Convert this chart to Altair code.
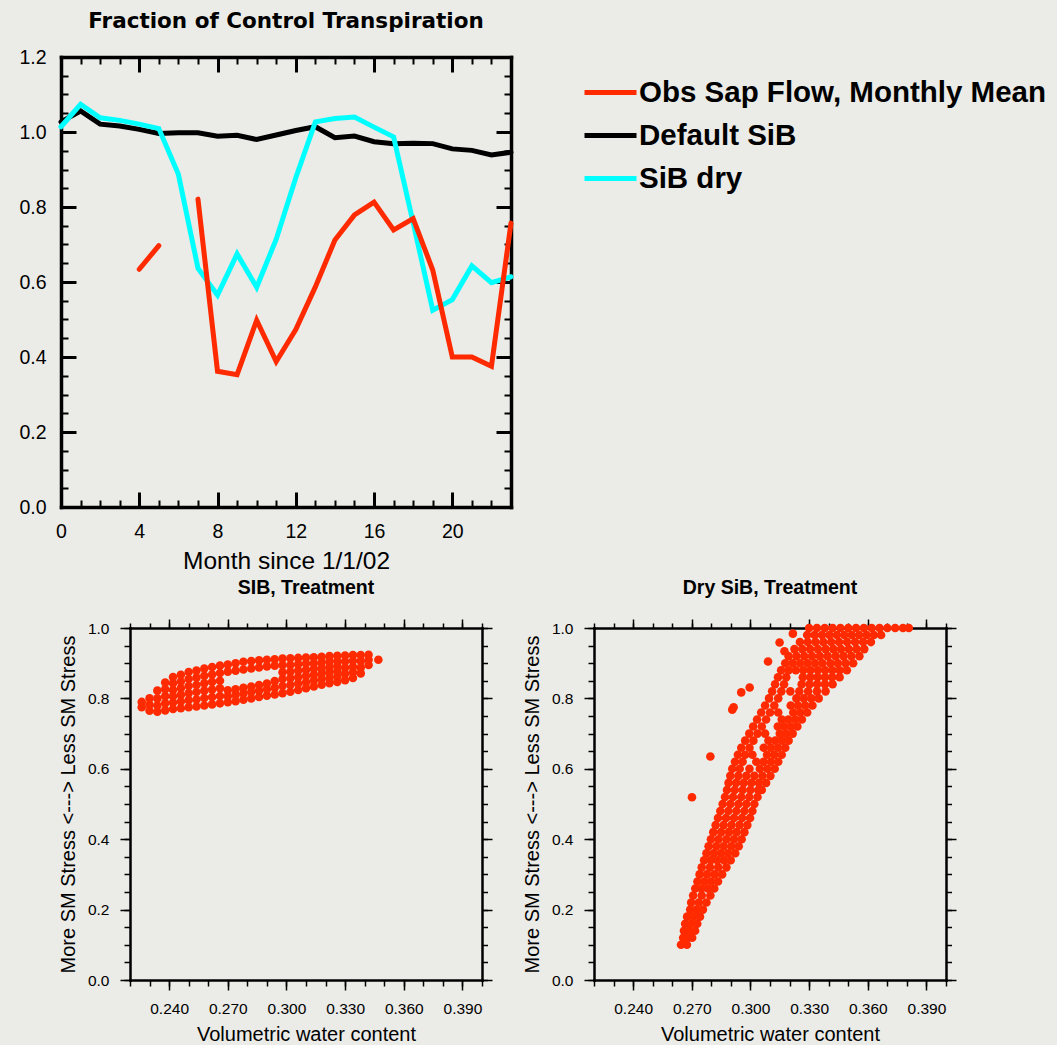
import altair as alt
import pandas as pd

SANS = "Liberation Sans"
WIDE = "DejaVu Sans"
RED = "#ff2a00"
CYAN = "#00ffff"
BLACK = "#000000"
BG = "#ebebe7"

# ---------------- top panel: fraction of control transpiration ----------------
months = [0, 1, 2, 3, 4, 5, 6, 7, 8, 9, 10, 11, 12, 13, 14, 15, 16, 17, 18, 19, 20, 21, 22, 23]
obs_sap = [None, None, None, None, 0.634, 0.697, None, 0.821, 0.362, 0.353, 0.498, 0.388,
           0.473, 0.587, 0.712, 0.779, 0.813, 0.739, 0.769, 0.632, 0.400, 0.400, 0.375, 0.757]
default_sib = [1.027, 1.056, 1.021, 1.016, 1.007, 0.996, 0.998, 0.998, 0.989, 0.991, 0.980, 0.992,
               1.004, 1.014, 0.985, 0.989, 0.974, 0.969, 0.970, 0.969, 0.955, 0.951, 0.939, 0.946]
sib_dry = [1.014, 1.074, 1.038, 1.031, 1.021, 1.009, 0.887, 0.637, 0.565, 0.675, 0.586, 0.714,
           0.878, 1.027, 1.036, 1.040, 1.013, 0.987, 0.758, 0.525, 0.553, 0.643, 0.598, 0.614]
series_names = ["Obs Sap Flow, Monthly Mean", "Default SiB", "SiB dry"]
series_colors = [RED, BLACK, CYAN]

month_major = [0, 4, 8, 12, 16, 20]
month_minor = [0, 1, 2, 3, 4, 5, 6, 7, 8, 9, 10, 11, 12, 13, 14, 15, 16, 17, 18, 19, 20, 21, 22, 23]
frac_major = [0.0, 0.2, 0.4, 0.6, 0.8, 1.0, 1.2]
frac_minor = [0.0, 0.05, 0.1, 0.15, 0.2, 0.25, 0.3, 0.35, 0.4, 0.45, 0.5, 0.55, 0.6,
              0.65, 0.7, 0.75, 0.8, 0.85, 0.9, 0.95, 1.0, 1.05, 1.1, 1.15, 1.2]

# ---------------- bottom panels: stress factor vs volumetric water content ----------------
vwc_major = [0.24, 0.27, 0.30, 0.33, 0.36, 0.39]
vwc_minor = [0.22, 0.23, 0.24, 0.25, 0.26, 0.27, 0.28, 0.29, 0.30, 0.31,
             0.32, 0.33, 0.34, 0.35, 0.36, 0.37, 0.38, 0.39, 0.40]
stress_major = [0.0, 0.2, 0.4, 0.6, 0.8, 1.0]
stress_minor = [0.0, 0.05, 0.1, 0.15, 0.2, 0.25, 0.3, 0.35, 0.4, 0.45, 0.5,
                0.55, 0.6, 0.65, 0.7, 0.75, 0.8, 0.85, 0.9, 0.95, 1.0]

# SiB treatment: columns of (water content, [stress values]) read from the cloud
sib_columns = [
    (0.226, [0.775, 0.790]),
    (0.230, [0.765, 0.782, 0.800]),
    (0.234, [0.762, 0.780, 0.800, 0.822]),
    (0.238, [0.766, 0.786, 0.806, 0.826, 0.845]),
    (0.242, [0.770, 0.788, 0.806, 0.824, 0.843, 0.861]),
    (0.246, [0.772, 0.791, 0.810, 0.829, 0.848, 0.867]),
    (0.250, [0.775, 0.795, 0.815, 0.835, 0.855, 0.875]),
    (0.254, [0.777, 0.797, 0.818, 0.838, 0.859, 0.879]),
    (0.258, [0.780, 0.801, 0.822, 0.843, 0.864, 0.885]),
    (0.262, [0.783, 0.804, 0.825, 0.847, 0.868, 0.889]),
    (0.266, [0.786, 0.807, 0.829, 0.850, 0.872, 0.893]),
    (0.270, [0.789, 0.806, 0.823, 0.876, 0.896]),
    (0.274, [0.792, 0.810, 0.826, 0.879, 0.900]),
    (0.278, [0.796, 0.814, 0.830, 0.882, 0.904]),
    (0.282, [0.800, 0.818, 0.834, 0.885, 0.906]),
    (0.286, [0.804, 0.822, 0.838, 0.888, 0.908]),
    (0.290, [0.808, 0.826, 0.842, 0.891, 0.910]),
    (0.294, [0.811, 0.830, 0.849, 0.893, 0.911]),
    (0.298, [0.815, 0.835, 0.855, 0.874, 0.894, 0.913]),
    (0.302, [0.819, 0.838, 0.857, 0.876, 0.895, 0.914]),
    (0.306, [0.824, 0.842, 0.860, 0.879, 0.897, 0.915]),
    (0.310, [0.829, 0.846, 0.864, 0.881, 0.899, 0.916]),
    (0.314, [0.834, 0.851, 0.867, 0.884, 0.900, 0.917]),
    (0.318, [0.839, 0.855, 0.871, 0.886, 0.902, 0.918]),
    (0.322, [0.843, 0.858, 0.874, 0.889, 0.905, 0.920]),
    (0.326, [0.847, 0.862, 0.877, 0.892, 0.906, 0.921]),
    (0.330, [0.852, 0.870, 0.887, 0.905, 0.922]),
    (0.334, [0.858, 0.874, 0.890, 0.907, 0.923]),
    (0.338, [0.871, 0.888, 0.906, 0.923]),
    (0.342, [0.895, 0.910, 0.924]),
    (0.347, [0.910]),
]

# Dry SiB treatment: rows of (stress, [water content values]) read from the cloud
dry_rows = [
    (0.10, [0.2645, 0.2675]),
    (0.12, [0.2656, 0.2680, 0.2702]),
    (0.14, [0.2660, 0.2688, 0.2717]),
    (0.16, [0.2666, 0.2697, 0.2728]),
    (0.18, [0.2676, 0.2709, 0.2742]),
    (0.20, [0.2692, 0.2724, 0.2757]),
    (0.22, [0.2697, 0.2736, 0.2775]),
    (0.24, [0.2707, 0.2751, 0.2795]),
    (0.26, [0.2718, 0.2750, 0.2783, 0.2815]),
    (0.28, [0.2729, 0.2764, 0.2799, 0.2834]),
    (0.30, [0.2740, 0.2778, 0.2817, 0.2855]),
    (0.32, [0.2751, 0.2793, 0.2835, 0.2877]),
    (0.34, [0.2763, 0.2797, 0.2831, 0.2865, 0.2899]),
    (0.36, [0.2775, 0.2812, 0.2849, 0.2885, 0.2922]),
    (0.38, [0.2786, 0.2825, 0.2863, 0.2902, 0.2940]),
    (0.40, [0.2798, 0.2837, 0.2877, 0.2916, 0.2955]),
    (0.42, [0.2810, 0.2850, 0.2890, 0.2929, 0.2969]),
    (0.44, [0.2822, 0.2863, 0.2903, 0.2944, 0.2984]),
    (0.46, [0.2834, 0.2875, 0.2916, 0.2957, 0.2998]),
    (0.48, [0.2846, 0.2887, 0.2928, 0.2969, 0.3010]),
    (0.50, [0.2858, 0.2898, 0.2939, 0.2979, 0.3020]),
    (0.52, [0.2870, 0.2911, 0.2953, 0.2994, 0.3036]),
    (0.54, [0.2880, 0.2920, 0.2960, 0.3000, 0.3040, 0.3058]),
    (0.56, [0.2888, 0.2927, 0.2966, 0.3005, 0.3044, 0.3080]),
    (0.58, [0.2897, 0.2938, 0.2979, 0.3020, 0.3061, 0.3102]),
    (0.60, [0.2907, 0.2945, 0.2995, 0.3048, 0.3086, 0.3124]),
    (0.62, [0.2921, 0.2960, 0.3030, 0.3067, 0.3105, 0.3142]),
    (0.64, [0.2936, 0.2973, 0.3010, 0.3085, 0.3122, 0.3160]),
    (0.66, [0.2953, 0.2995, 0.3068, 0.3105, 0.3141, 0.3178]),
    (0.68, [0.2973, 0.3015, 0.3092, 0.3127, 0.3161, 0.3195]),
    (0.70, [0.2994, 0.3036, 0.3075, 0.3150, 0.3183, 0.3216]),
    (0.72, [0.3014, 0.3058, 0.3140, 0.3173, 0.3207, 0.3240]),
    (0.74, [0.3034, 0.3080, 0.3160, 0.3194, 0.3229, 0.3263]),
    (0.76, [0.3055, 0.3100, 0.3142, 0.3219, 0.3255, 0.3290]),
    (0.78, [0.3075, 0.3122, 0.3206, 0.3243, 0.3280, 0.3317]),
    (0.80, [0.3095, 0.3142, 0.3235, 0.3273, 0.3311, 0.3349]),
    (0.82, [0.3111, 0.3158, 0.3204, 0.3250, 0.3295, 0.3340, 0.3384]),
    (0.84, [0.3126, 0.3172, 0.3262, 0.3302, 0.3341, 0.3381, 0.3420]),
    (0.86, [0.3141, 0.3183, 0.3268, 0.3306, 0.3343, 0.3381, 0.3418, 0.3456]),
    (0.88, [0.3157, 0.3195, 0.3232, 0.3270, 0.3307, 0.3345, 0.3382, 0.3419, 0.3456, 0.3493]),
    (0.90, [0.3178, 0.3216, 0.3254, 0.3292, 0.3330, 0.3368, 0.3409, 0.3447, 0.3486, 0.3525]),
    (0.92, [0.3195, 0.3235, 0.3275, 0.3315, 0.3355, 0.3395, 0.3436, 0.3476, 0.3516, 0.3557]),
    (0.94, [0.3225, 0.3265, 0.3305, 0.3345, 0.3385, 0.3424, 0.3463, 0.3503, 0.3543, 0.3582]),
    (0.96, [0.3253, 0.3293, 0.3333, 0.3373, 0.3413, 0.3453, 0.3494, 0.3535, 0.3576, 0.3616]),
    (0.98, [0.3290, 0.3328, 0.3366, 0.3404, 0.3442, 0.3480, 0.3518, 0.3556, 0.3594, 0.3631, 0.3668]),
    (1.00, [0.3300, 0.3340, 0.3380, 0.3420, 0.3460, 0.3500, 0.3540, 0.3580, 0.3620, 0.3660,
            0.3700, 0.3740, 0.3780, 0.3810]),
]
dry_outlier_vwc = [0.2701, 0.2795, 0.2907, 0.2914, 0.2953, 0.2996, 0.3090, 0.3149, 0.3174, 0.3217]
dry_outlier_stress = [0.519, 0.635, 0.768, 0.775, 0.817, 0.831, 0.905, 0.959, 0.934, 0.984]

# ---------------- build tables ----------------
rows = []
for name, vals in zip(series_names, [obs_sap, default_sib, sib_dry]):
    seg = 0
    for m, v in zip(months, vals):
        if v is None:
            seg += 1
            continue
        rows.append({"month": m, "frac": v, "series": name, "seg": f"{name}-{seg}"})
lines_df = pd.DataFrame(rows)

sib_pts = [{"vwc": xv, "stress": yv} for xv, ys in sib_columns for yv in ys]
sib_df = pd.DataFrame(sib_pts)
dry_pts = [{"vwc": xv, "stress": yv} for yv, xs in dry_rows for xv in xs]
dry_pts += [{"vwc": a, "stress": b} for a, b in zip(dry_outlier_vwc, dry_outlier_stress)]
dry_df = pd.DataFrame(dry_pts)


def tick_axis(orient, values, size, width, offset=0, domain=False, domain_width=1.0):
    return alt.Axis(orient=orient, values=values, labels=False, ticks=True, tickSize=size,
                    tickWidth=width, tickColor=BLACK, domain=domain, domainColor=BLACK,
                    domainWidth=domain_width, domainCap="square", offset=offset,
                    minExtent=0, grid=False, title=None)


def frame_axis(orient, width):
    return alt.Axis(orient=orient, labels=False, ticks=False, domain=True, domainColor=BLACK,
                    domainWidth=width, domainCap="square", minExtent=0, grid=False, title=None)


# ---------------- top chart ----------------
xs_top = alt.Scale(domain=[0, 23], nice=False, zero=False)
ys_top = alt.Scale(domain=[0, 1.2], nice=False, zero=False)

color = alt.Color(
    "series:N",
    scale=alt.Scale(domain=series_names, range=series_colors),
    legend=alt.Legend(title=None, orient="none", legendX=521, legendY=7, direction="vertical",
                      symbolType="stroke", symbolSize=2704, symbolStrokeWidth=5,
                      labelFont=SANS, labelFontSize=29.5, labelFontWeight="bold",
                      labelColor=BLACK, labelOffset=0, labelLimit=0, rowPadding=-15,
                      padding=0),
)

top_x_lab = alt.Axis(orient="bottom", values=month_major, format="d", labels=True, ticks=False,
                     domain=True, domainWidth=3.5, domainColor=BLACK, domainCap="square",
                     labelFont=SANS, labelFontSize=19.5, labelColor=BLACK, labelPadding=15,
                     labelFlush=False, title="Month since 1/1/02", titleFont=SANS,
                     titleFontSize=24.5, titleFontWeight="normal", titleColor=BLACK,
                     titlePadding=9, minExtent=0, grid=False)
top_y_lab = alt.Axis(orient="left", values=frac_major, format=".1f", labels=True, ticks=False,
                     domain=True, domainWidth=3.5, domainColor=BLACK, domainCap="square",
                     labelFont=SANS, labelFontSize=19.5, labelColor=BLACK, labelPadding=15,
                     labelFlush=False, minExtent=0, title=None, grid=False)

top_axes = [
    (top_x_lab, top_y_lab),
    (frame_axis("top", 3.5), frame_axis("right", 3.5)),
    (tick_axis("bottom", month_major, 15, 3, offset=-15), tick_axis("left", frac_major, 15, 3, offset=-15)),
    (tick_axis("bottom", month_minor, 7, 2, offset=-7), tick_axis("left", frac_minor, 7, 2, offset=-7)),
    (tick_axis("top", month_major, 15, 3, offset=-15), tick_axis("right", frac_major, 15, 3, offset=-15)),
    (tick_axis("top", month_minor, 7, 2, offset=-7), tick_axis("right", frac_minor, 7, 2, offset=-7)),
]

top_layers = []
draw_order = ["Default SiB", "SiB dry", "Obs Sap Flow, Monthly Mean"]
for i, (axx, axy) in enumerate(top_axes):
    if i < 3:
        layer = (alt.Chart(lines_df)
                 .transform_filter(alt.datum.series == draw_order[i])
                 .mark_line(strokeWidth=5, strokeCap="round")
                 .encode(x=alt.X("month:Q", scale=xs_top, axis=axx),
                         y=alt.Y("frac:Q", scale=ys_top, axis=axy),
                         color=color, detail=alt.Detail("seg:N")))
    else:
        layer = (alt.Chart(lines_df).mark_point(opacity=0)
                 .encode(x=alt.X("month:Q", scale=xs_top, axis=axx),
                         y=alt.Y("frac:Q", scale=ys_top, axis=axy)))
    top_layers.append(layer)

top_chart = alt.layer(*top_layers).resolve_axis(x="independent", y="independent").properties(
    width=450, height=450,
    title=alt.Title("Fraction of Control Transpiration", font=WIDE, fontSize=21.5,
                    fontWeight="bold", color=BLACK, anchor="middle", baseline="alphabetic",
                    offset=-2),
)


# ---------------- scatter charts ----------------
def scatter(title, df):
    xsc = alt.Scale(domain=[0.22, 0.40], nice=False, zero=False)
    ysc = alt.Scale(domain=[0, 1], nice=False, zero=False)
    x_lab = alt.Axis(orient="bottom", values=vwc_major, format=".3f", labels=True, ticks=True,
                     tickSize=10, tickWidth=1.5, tickColor=BLACK, domain=True, domainWidth=2.5,
                     domainColor=BLACK, domainCap="square", labelFont=SANS, labelFontSize=15.5,
                     labelColor=BLACK, labelPadding=11, labelFlush=False,
                     title="Volumetric water content", titleFont=SANS, titleFontSize=20,
                     titleFontWeight="normal", titleColor=BLACK, titlePadding=8,
                     minExtent=0, grid=False)
    y_lab = alt.Axis(orient="left", values=stress_major, format=".1f", labels=True, ticks=True,
                     tickSize=10, tickWidth=1.5, tickColor=BLACK, domain=True, domainWidth=2.5,
                     domainColor=BLACK, domainCap="square", labelFont=SANS, labelFontSize=15.5,
                     labelColor=BLACK, labelPadding=11, labelFlush=False,
                     title="More SM Stress <---> Less SM Stress", titleFont=SANS,
                     titleFontSize=20, titleFontWeight="normal", titleColor=BLACK,
                     titlePadding=9, minExtent=0, grid=False)
    axes = [
        (x_lab, y_lab),
        (tick_axis("bottom", vwc_minor, 6, 1.5), tick_axis("left", stress_minor, 6, 1.5)),
        (tick_axis("top", vwc_major, 9, 1.5, domain=True, domain_width=2.5),
         tick_axis("right", stress_major, 10, 1.5, domain=True, domain_width=2.5)),
        (tick_axis("top", vwc_minor, 5, 1.5), tick_axis("right", stress_minor, 5.5, 1.5)),
    ]
    layers = []
    for i, (axx, axy) in enumerate(axes):
        layers.append(
            alt.Chart(df).mark_circle(size=74, color=RED, opacity=1 if i == 0 else 0)
            .encode(x=alt.X("vwc:Q", scale=xsc, axis=axx), y=alt.Y("stress:Q", scale=ysc, axis=axy))
        )
    return alt.layer(*layers).resolve_axis(x="independent", y="independent").properties(
        width=352, height=352,
        title=alt.Title(title, font=SANS, fontSize=19.5, fontWeight="bold", color=BLACK,
                        anchor="middle", baseline="alphabetic", offset=5),
    )


sib_chart = scatter("SIB, Treatment", sib_df)
dry_chart = scatter("Dry SiB, Treatment", dry_df)

spacer = (alt.Chart(pd.DataFrame({"blank": [0]})).mark_point(opacity=0)
          .encode(x=alt.value(0), y=alt.value(0)).properties(width=69, height=352))

bottom_row = alt.hconcat(
    spacer,
    alt.hconcat(sib_chart, dry_chart, spacing=112, bounds="flush"),
    spacing=0, bounds="flush",
)

chart = alt.vconcat(top_chart, bottom_row, spacing=121, bounds="flush").properties(
    background=BG,
    padding={"left": 18, "top": 10, "right": 10, "bottom": 0},
).configure_view(strokeWidth=0)

chart.save("out.html", embed_options={"renderer": "svg", "actions": False})
